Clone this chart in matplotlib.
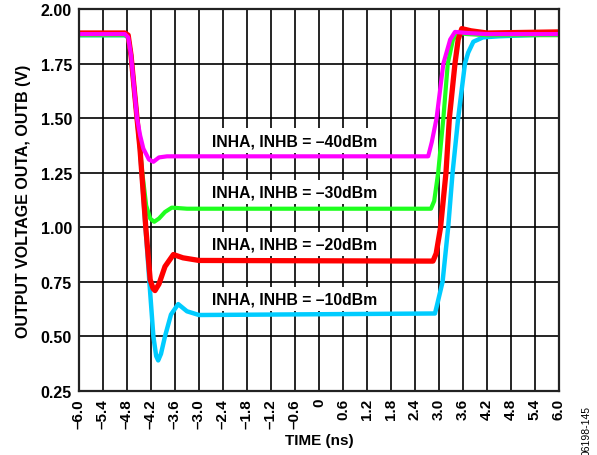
import matplotlib
matplotlib.use("Agg")
import matplotlib.pyplot as plt
import numpy as np

# traces (time in ns, volts)
t_40 = [-6.0, -4.85, -4.77, -4.7, -4.55, -4.47, -4.39, -4.25, -4.14, -4.0, -3.8, 2.73, 2.82, 2.94, 3.11, 3.28, 3.4, 3.7, 4.2, 6.0]
v_40 = [1.885, 1.885, 1.87, 1.79, 1.50, 1.42, 1.36, 1.31, 1.30, 1.32, 1.325, 1.325, 1.39, 1.50, 1.75, 1.86, 1.895, 1.89, 1.885, 1.885]

t_30 = [-6.0, -4.85, -4.77, -4.7, -4.55, -4.475, -4.43, -4.32, -4.22, -4.12, -4.0, -3.85, -3.68, -3.3, 2.8, 2.88, 2.98, 3.11, 3.22, 3.35, 3.48, 3.7, 4.2, 6.0]
v_30 = [1.88, 1.88, 1.87, 1.79, 1.50, 1.36, 1.27, 1.10, 1.04, 1.025, 1.04, 1.07, 1.09, 1.085, 1.085, 1.12, 1.25, 1.50, 1.75, 1.86, 1.89, 1.885, 1.88, 1.88]

t_20 = [-6.0, -4.85, -4.77, -4.7, -4.55, -4.475, -4.33, -4.22, -4.15, -4.1, -4.0, -3.85, -3.64, -3.4, -3.0, 2.85, 2.93, 3.04, 3.175, 3.26, 3.4, 3.48, 3.57, 3.8, 4.2, 6.0]
v_20 = [1.89, 1.89, 1.88, 1.79, 1.50, 1.36, 1.0, 0.76, 0.72, 0.71, 0.74, 0.82, 0.875, 0.86, 0.848, 0.845, 0.88, 1.0, 1.25, 1.50, 1.75, 1.86, 1.91, 1.90, 1.89, 1.895]

t_10 = [-6.0, -4.85, -4.77, -4.7, -4.55, -4.475, -4.24, -4.14, -4.07, -4.02, -3.95, -3.85, -3.7, -3.52, -3.3, -3.0, 2.9, 2.96, 3.09, 3.23, 3.34, 3.48, 3.65, 3.73, 3.86, 4.1, 4.5, 6.0]
v_10 = [1.88, 1.88, 1.87, 1.79, 1.50, 1.36, 0.75, 0.50, 0.41, 0.39, 0.42, 0.50, 0.60, 0.648, 0.615, 0.598, 0.605, 0.65, 0.75, 1.0, 1.25, 1.50, 1.75, 1.80, 1.85, 1.87, 1.875, 1.885]

labels = ["INHA, INHB = \u201340dBm", "INHA, INHB = \u201330dBm",
          "INHA, INHB = \u201320dBm", "INHA, INHB = \u201310dBm"]
label_y = [1.397, 1.162, 0.923, 0.672]

x_ticks = np.round(np.arange(-6.0, 6.01, 0.6), 1)
y_ticks = np.arange(0.25, 2.01, 0.25)

plt.rcParams['font.family'] = ['Liberation Sans', 'DejaVu Sans']

fig = plt.figure(figsize=(5.97, 4.56), dpi=100)
ax = fig.add_axes([0.1323, 0.1404, 0.804, 0.8377])

ax.plot(t_10, v_10, color="#00CCFF", lw=3.2, solid_joinstyle="round")
ax.plot(t_30, v_30, color="#1EFF1E", lw=3.0, solid_joinstyle="round")
ax.plot(t_20, v_20, color="#FF0000", lw=3.8, solid_joinstyle="round")
ax.plot(t_40, v_40, color="#FF00FF", lw=3.0, solid_joinstyle="round")

for lab, yy in zip(labels, label_y):
    ax.text(-2.68, yy, lab, fontsize=11.3, fontweight="bold", va="center", ha="left",
            bbox=dict(facecolor="white", edgecolor="none", boxstyle="square,pad=0.3"))

ax.set_xlim(-6, 6)
ax.set_ylim(0.25, 2.0)
ax.set_xticks(x_ticks)
xt = []
for v in x_ticks:
    if abs(v) < 1e-9:
        xt.append("0")
    elif v < 0:
        xt.append("\u2013%.1f" % abs(v))
    else:
        xt.append("%.1f" % v)
ax.set_xticklabels(xt, rotation=90, fontsize=11, fontweight="bold")
ax.set_yticks(y_ticks)
ax.set_yticklabels(["%.2f" % v for v in y_ticks], fontsize=11.5, fontweight="bold")
ax.tick_params(length=0, pad=5)

ax.grid(True, color="black", lw=1.2)
ax.set_axisbelow(True)
for s in ax.spines.values():
    s.set_linewidth(1.6)
    s.set_color("#222222")

ax.set_xlabel("TIME (ns)", fontsize=11, fontweight="bold", labelpad=4)
ax.set_ylabel("OUTPUT VOLTAGE OUTA, OUTB (V)", fontsize=11.5, fontweight="bold", labelpad=7)

fig.text(0.982, 0.0, "06198-145", rotation=90, fontsize=7.5, ha="center", va="bottom")

fig.savefig("out.png", dpi=100)
